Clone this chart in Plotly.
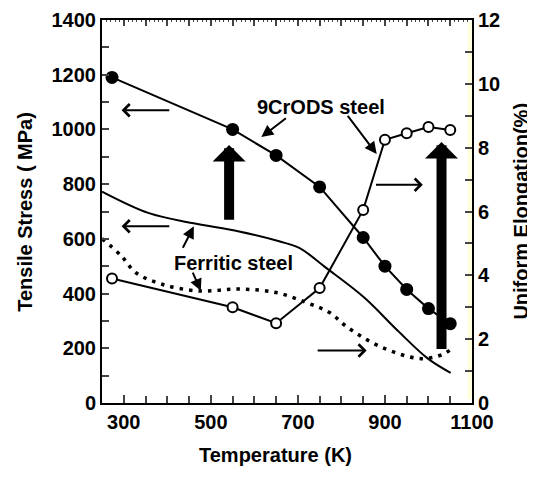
import plotly.graph_objects as go

# 9Cr ODS steel
T_ods = [273, 550, 650, 750, 850, 900, 950, 1000, 1050]
uts_ods = [1190, 1000, 905, 790, 605, 500, 415, 345, 290]
el_ods = [3.9, 3.0, 2.5, 3.6, 6.05, 8.25, 8.45, 8.65, 8.55]

# Ferritic steel
T_fer_uts = [250, 358, 457, 565, 657, 703, 765, 853, 929, 998, 1051]
uts_fer = [773, 694, 658, 627, 591, 567, 494, 385, 265, 163, 110]
T_fer_el = [250, 295, 328, 388, 473, 565, 650, 719, 772, 814, 892, 983, 1037, 1056]
el_fer = [5.15, 4.6, 4.08, 3.72, 3.51, 3.57, 3.46, 3.15, 2.84, 2.37, 1.75, 1.39, 1.55, 1.75]

x_ticks = [300, 500, 700, 900, 1100]
y_ticks = [0, 200, 400, 600, 800, 1000, 1200, 1400]
y2_ticks = [0, 2, 4, 6, 8, 10, 12]

FONT = "Liberation Sans, Arial, sans-serif"

fig = go.Figure()
fig.add_trace(go.Scatter(x=T_fer_uts, y=uts_fer, mode="lines", line=dict(color="black", width=2, shape="spline"),
                         showlegend=False))
fig.add_trace(go.Scatter(x=T_fer_el, y=el_fer, yaxis="y2", mode="lines",
                         line=dict(color="black", width=3.5, dash="3.5px,6px", shape="spline"), showlegend=False))
fig.add_trace(go.Scatter(x=T_ods, y=uts_ods, mode="lines+markers", line=dict(color="black", width=2),
                         marker=dict(symbol="circle", size=13, color="black"), showlegend=False))
fig.add_trace(go.Scatter(x=T_ods, y=el_ods, yaxis="y2", mode="lines+markers", line=dict(color="black", width=2),
                         marker=dict(symbol="circle", size=10, color="white", line=dict(color="black", width=2)),
                         showlegend=False))
# invisible trace to carry the top (mirror) axis
fig.add_trace(go.Scatter(x=x_ticks, y=y_ticks[:len(x_ticks)], xaxis="x2", mode="markers",
                         marker=dict(opacity=0), hoverinfo="skip", showlegend=False))

tickfont = dict(family=FONT, size=20, color="black")
b = lambda v: "<b>%s</b>" % v

fig.update_layout(
    width=527, height=470,
    margin=dict(l=94, r=63, t=12, b=75, autoexpand=False),
    paper_bgcolor="white", plot_bgcolor="white",
    font=dict(family=FONT, color="black"),
    xaxis=dict(range=[250, 1100], tickvals=x_ticks, ticktext=[b(v) for v in x_ticks], automargin=False,
               ticklabeloverflow="allow",
               ticks="inside", ticklen=8, tickwidth=2,
               showline=True, linecolor="black", linewidth=2, showgrid=False, zeroline=False,
               tickfont=tickfont,
               minor=dict(dtick=50, tick0=300, ticks="inside", ticklen=7, tickwidth=2, showgrid=False)),
    xaxis2=dict(range=[250, 1100], overlaying="x", side="top", anchor="y", automargin=False,
                showticklabels=False, tick0=300, dtick=50, ticks="inside", ticklen=6, tickwidth=2,
                showline=True, linecolor="black", linewidth=2, showgrid=False, zeroline=False,
                minor=dict(dtick=10, ticks="inside", ticklen=2, tickwidth=1, showgrid=False)),
    yaxis=dict(range=[0, 1400], tickvals=y_ticks, ticktext=[b(v) for v in y_ticks], automargin=False,
               ticklabeloverflow="allow",
               ticks="inside", ticklen=7, tickwidth=2,
               showline=True, linecolor="black", linewidth=2, showgrid=False, zeroline=False,
               tickfont=tickfont,
               minor=dict(dtick=100, ticks="inside", ticklen=7, tickwidth=2, showgrid=False)),
    yaxis2=dict(range=[0, 12], tickvals=y2_ticks, ticktext=[b(v) for v in y2_ticks], automargin=False,
                ticklabeloverflow="allow",
                ticks="inside", ticklen=7, tickwidth=2, overlaying="y", side="right",
                showline=True, linecolor="black", linewidth=2, showgrid=False, zeroline=False,
                tickfont=tickfont,
                minor=dict(dtick=1, ticks="inside", ticklen=7, tickwidth=2, showgrid=False)),
)

fig.add_shape(type="rect", xref="paper", yref="paper", x0=0.988, x1=0.999, y0=0.01, y1=0.995,
              fillcolor="#FFFFDC", line=dict(width=0), layer="below")

titlefont = dict(family=FONT, size=20, color="black")
fig.add_annotation(text=b("Temperature (K)"), xref="paper", yref="paper", x=0.47, y=-0.135,
                   xanchor="center", yanchor="middle", showarrow=False, font=titlefont)
fig.add_annotation(text=b("Tensile Stress ( MPa)"), xref="paper", yref="paper", x=-0.21, y=0.5,
                   xanchor="center", yanchor="middle", textangle=-90, showarrow=False, font=titlefont)
fig.add_annotation(text=b("Uniform Elongation(%)"), xref="paper", yref="paper", x=1.13, y=0.5,
                   xanchor="center", yanchor="middle", textangle=-90, showarrow=False, font=titlefont)

labfont = dict(family=FONT, size=20, color="black")
fig.add_annotation(text=b("9CrODS steel"), x=752, y=1081, xref="x", yref="y", showarrow=False, font=labfont)
fig.add_annotation(text=b("Ferritic steel"), x=553, y=511, xref="x", yref="y", showarrow=False, font=labfont)

def arrow(x, y, ax, ay, head=2, width=2, size=1.2):
    fig.add_annotation(x=x, y=y, ax=ax, ay=ay, xref="x", yref="y", axref="x", ayref="y",
                       text="", showarrow=True, arrowhead=head, arrowwidth=width, arrowsize=size,
                       arrowcolor="black")

# label pointers
arrow(616, 972, 676, 1045)
arrow(881, 910, 812, 1055)
arrow(461, 646, 434, 562)
arrow(477, 410, 457, 482)

# axis indicator arrows
arrow(295, 1070, 408, 1070, head=4, size=1.2)
arrow(295, 646, 408, 646, head=4, size=1.2)
arrow(987, 798, 876, 798, head=4, size=1.2)
arrow(858, 192, 742, 192, head=4, size=1.2)

# big arrows
arrow(542, 943, 542, 664, head=1, width=10, size=0.55)
arrow(1030, 954, 1030, 192, head=1, width=10, size=0.55)

fig.write_html("out.html")
